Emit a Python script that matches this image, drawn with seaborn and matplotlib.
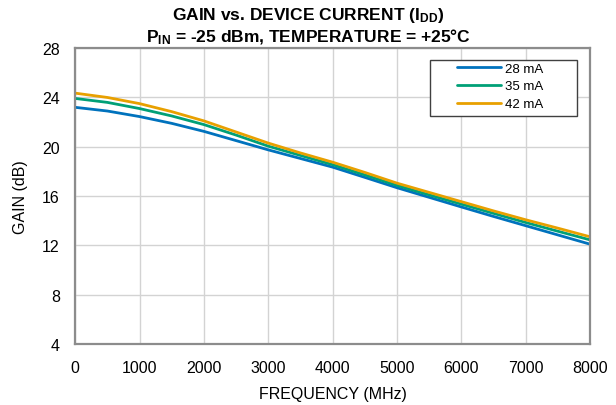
import matplotlib
matplotlib.use("Agg")
import matplotlib.pyplot as plt
from matplotlib.patches import Rectangle
import seaborn as sns
import pandas as pd

freq = [0, 500, 1000, 1500, 2000, 2500, 3000, 3500, 4000, 4500, 5000, 5500, 6000, 6500, 7000, 7500, 8000]
gain_28 = [23.2, 22.9, 22.45, 21.9, 21.25, 20.5, 19.75, 19.05, 18.35, 17.52, 16.68, 15.9, 15.12, 14.35, 13.6, 12.85, 12.1]
gain_35 = [23.92, 23.6, 23.1, 22.5, 21.8, 20.95, 20.05, 19.3, 18.55, 17.72, 16.87, 16.1, 15.35, 14.6, 13.86, 13.15, 12.45]
gain_42 = [24.35, 24.0, 23.5, 22.85, 22.1, 21.2, 20.3, 19.5, 18.75, 17.92, 17.05, 16.3, 15.55, 14.8, 14.08, 13.4, 12.7]
series_labels = ["28 mA", "35 mA", "42 mA"]
colors = ["#0072BD", "#00A077", "#E8A000"]
x_ticks = [0, 1000, 2000, 3000, 4000, 5000, 6000, 7000, 8000]
y_ticks = [4, 8, 12, 16, 20, 24, 28]

sns.set_style("white")
plt.rcParams["font.family"] = ["Liberation Sans", "DejaVu Sans"]
plt.rcParams["text.color"] = "black"
plt.rcParams["axes.labelcolor"] = "black"
plt.rcParams["mathtext.fontset"] = "custom"
plt.rcParams["mathtext.rm"] = "Liberation Sans:bold"
plt.rcParams["mathtext.bf"] = "Liberation Sans:bold"
plt.rcParams["mathtext.it"] = "Liberation Sans:bold"

rows = []
for lab, vals in zip(series_labels, [gain_28, gain_35, gain_42]):
    for f, g in zip(freq, vals):
        rows.append({"freq": f, "gain": g, "current": lab})
df = pd.DataFrame(rows)

fig = plt.figure(figsize=(6.16, 4.06), dpi=100)
ax = fig.add_axes([0.122, 0.150, 0.836, 0.729])
sns.lineplot(data=df, x="freq", y="gain", hue="current", hue_order=series_labels,
             palette=colors, linewidth=2.0, ax=ax, legend=False)

ax.set_xlim(0, 8000)
ax.set_ylim(4, 28)
ax.set_xticks(x_ticks)
ax.set_yticks(y_ticks)
ax.grid(True, color="#d3d3d3", linewidth=1.0)
ax.set_axisbelow(True)
for s in ax.spines.values():
    s.set_color("#8c8c8c")
    s.set_linewidth(1.6)
ax.tick_params(axis="x", length=0, labelsize=11.5, pad=11.5, colors="black")
ax.tick_params(axis="y", length=0, labelsize=11.5, pad=11, colors="black")
ax.set_xlabel("FREQUENCY (MHz)", fontsize=11.5, labelpad=8, color="black")
ax.set_ylabel("GAIN (dB)", fontsize=11.5, labelpad=10, color="black")

fig.text(0.5, 0.961, r"GAIN vs. DEVICE CURRENT (I$_{\mathrm{DD}}$)", ha="center", va="center",
         fontsize=12.5, fontweight="bold", color="black")
fig.text(0.5, 0.909, r"P$_{\mathrm{IN}}$ = -25 dBm, TEMPERATURE = +25°C", ha="center", va="center",
         fontsize=12.5, fontweight="bold", color="black")

ax.add_patch(Rectangle((0.689, 0.769), 0.286, 0.19, transform=ax.transAxes,
                       facecolor="white", edgecolor="#404040", linewidth=1.0, zorder=4))
handles = [plt.Line2D([0], [0], color=c, linewidth=2.0) for c in colors]
leg = ax.legend(handles, series_labels, loc="upper left", bbox_to_anchor=(0.742, 0.952),
                fontsize=9.5, frameon=False, handlelength=3.33, borderaxespad=0,
                handletextpad=0.3, labelspacing=0.42, borderpad=0)
for t in leg.get_texts():
    t.set_color("black")
leg.set_zorder(5)

fig.savefig("out.png", dpi=100)
